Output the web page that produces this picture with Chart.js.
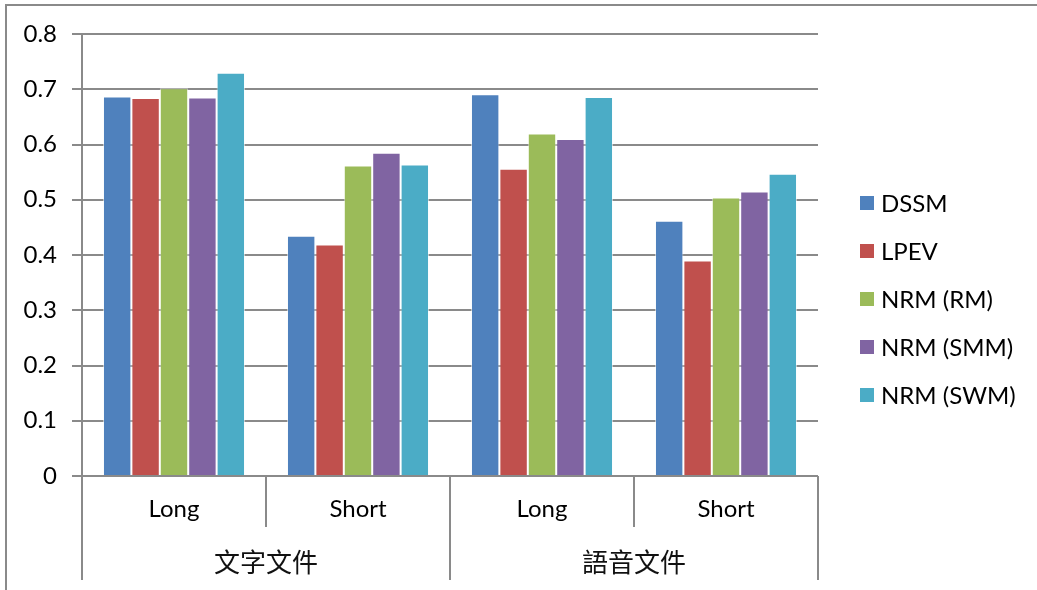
<!DOCTYPE html>
<html>
<head>
<meta charset="utf-8">
<script src="https://cdn.jsdelivr.net/npm/chart.js@4/dist/chart.umd.min.js"></script>
<style>
  html, body { margin: 0; padding: 0; background: #fff; }
  #wrap { position: relative; width: 1037px; height: 590px; overflow: hidden; }
  #frame { position: absolute; left: 5px; top: 4px; width: 1100px; height: 700px; border: 2px solid #8a8a8a; box-sizing: border-box; }
  canvas { position: absolute; left: 0; top: 0; }
</style>
</head>
<body>
<div id="wrap">
  <div id="frame"></div>
  <canvas id="chart" width="1037" height="590"></canvas>
</div>
<script>
// sub categories and their groups
const categories = ['Long', 'Short', 'Long', 'Short']
const groups = ['文字文件', '語音文件']
const seriesNames = ['DSSM', 'LPEV', 'NRM (RM)', 'NRM (SMM)', 'NRM (SWM)']
const seriesColors = ['#4F81BD', '#C0504D', '#9BBB59', '#8064A2', '#4BACC6']

const dssm = [0.687, 0.435, 0.691, 0.462]
const lpev = [0.684, 0.419, 0.556, 0.390]
const nrmRM = [0.702, 0.562, 0.620, 0.504]
const nrmSMM = [0.685, 0.585, 0.610, 0.515]
const nrmSWM = [0.730, 0.564, 0.686, 0.547]

const yTicks = [0, 0.1, 0.2, 0.3, 0.4, 0.5, 0.6, 0.7, 0.8]

const latin = 'Lato, "Open Sans", sans-serif'
const gridGray = '#8a8a8a'

const seriesValues = [dssm, lpev, nrmRM, nrmSMM, nrmSWM]

// lines under the axis plus the group names
const groupAxis = {
    id: 'groupAxis',
    afterDraw: (chart) => {
        const ctx = chart.ctx
        const x = chart.scales.x
        const area = chart.chartArea
        const w = (x.right - x.left) / categories.length
        ctx.save()
        ctx.strokeStyle = gridGray
        ctx.lineWidth = 2
        for (let i = 0; i <= categories.length; i++) {
            let px = Math.round(x.left + i * w)
            let bottom = (i % 2 == 0) ? 580 : 527
            ctx.beginPath()
            ctx.moveTo(px, area.bottom)
            ctx.lineTo(px, bottom)
            ctx.stroke()
        }
        ctx.fillStyle = '#111'
        ctx.font = '26px "Noto Sans CJK TC", sans-serif'
        ctx.textAlign = 'center'
        ctx.textBaseline = 'middle'
        groups.forEach((g, i) => {
            ctx.fillText(g, x.left + (2 * i + 1) * w, 562)
        })
        ctx.restore()
    }
}

// legend on the right
const sideLegend = {
    id: 'sideLegend',
    afterDraw: (chart) => {
        const ctx = chart.ctx
        ctx.save()
        ctx.font = '24px ' + latin
        ctx.textBaseline = 'middle'
        chart.data.datasets.forEach((ds, i) => {
            let y = 203 + i * 48
            ctx.fillStyle = ds.backgroundColor
            ctx.fillRect(860, y - 7, 14, 14)
            ctx.fillStyle = '#000'
            ctx.fillText(ds.label, 881, y + 1)
        })
        ctx.restore()
    }
}

const config = {
    type: 'bar',
    data: {
        labels: categories,
        datasets: seriesNames.map((name, i) => ({
            label: name,
            data: seriesValues[i],
            backgroundColor: seriesColors[i],
            borderColor: 'rgba(255,255,255,0.55)',
            borderWidth: 1,
            categoryPercentage: 0.772,
            barPercentage: 1.0
        }))
    },
    options: {
        responsive: false,
        animation: false,
        layout: { padding: { top: 34, right: 219, bottom: 0, left: 0 } },
        plugins: {
            legend: { display: false },
            tooltip: { enabled: false }
        },
        scales: {
            x: {
                grid: { display: true, drawOnChartArea: false, drawTicks: false },
                border: { display: false },
                ticks: {
                    color: '#000',
                    font: { family: latin, size: 24 },
                    padding: 19,
                    maxRotation: 0
                },
                afterFit: (s) => { s.height = 114 }
            },
            y: {
                min: 0,
                max: 0.8,
                afterBuildTicks: (s) => { s.ticks = yTicks.map(v => ({ value: v })) },
                grid: { color: gridGray, lineWidth: 2, tickLength: 10 },
                border: { display: true, color: gridGray, width: 2 },
                ticks: {
                    color: '#000',
                    font: { family: latin, size: 24 },
                    padding: 15,
                    callback: (v) => String(Math.round(v * 10) / 10)
                },
                afterFit: (s) => { s.width = 82 }
            }
        }
    },
    plugins: [groupAxis, sideLegend]
}

const myChart = new Chart(document.getElementById('chart').getContext('2d'), config)
</script>
</body>
</html>
